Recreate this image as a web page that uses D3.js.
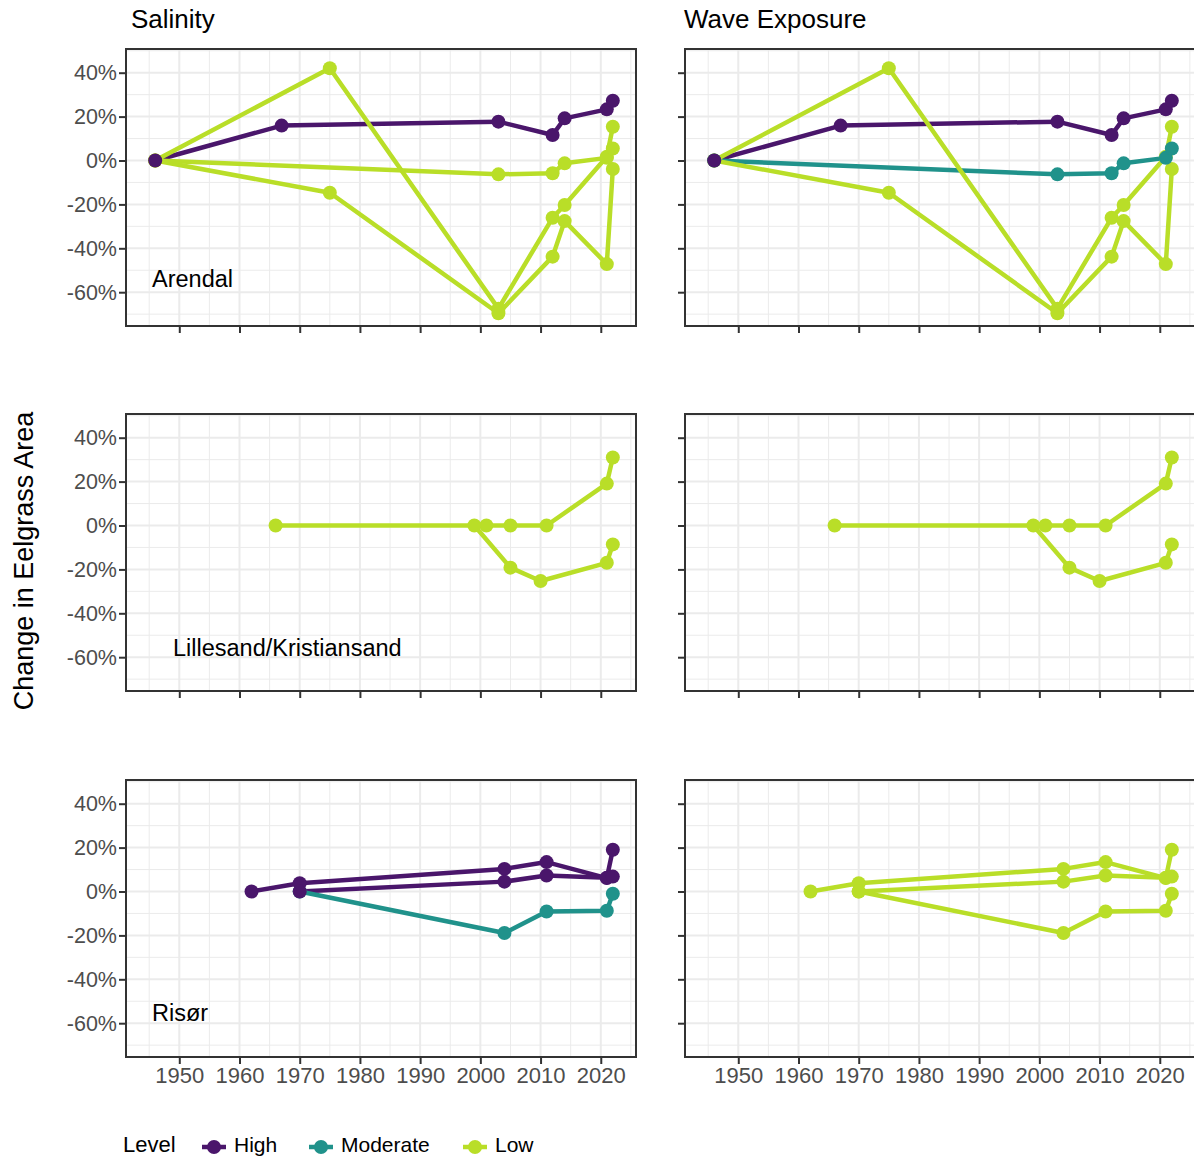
<!DOCTYPE html>
<html>
<head>
<meta charset="utf-8">
<script src="https://cdn.jsdelivr.net/npm/d3@7"></script>
<style>
  html, body { margin: 0; padding: 0; background: #ffffff; }
  svg { display: block; font-family: "Liberation Sans", Arial, Helvetica, sans-serif; }
</style>
</head>
<body>
<svg id="chart" width="1194" height="1157"></svg>
<script>
// ---- data -------------------------------------------------------------
const drivers = ["Salinity", "Wave Exposure"];
const regions = ["Arendal", "Lillesand/Kristiansand", "Risør"];
const levels = ["High", "Moderate", "Low"];

// one entry per monitored site: region, survey years, % change in eelgrass area
const siteRegion = [
  "Arendal", "Arendal", "Arendal", "Arendal",
  "Lillesand/Kristiansand", "Lillesand/Kristiansand",
  "Risør", "Risør", "Risør"
];
const siteYears = [
  [1946, 1967, 2003, 2012, 2014, 2021, 2022],
  [1946, 1975, 2003, 2012, 2014, 2021, 2022],
  [1946, 1975, 2003, 2012, 2014, 2021, 2022],
  [1946, 2003, 2012, 2014, 2021, 2022],
  [1966, 2001, 2005, 2011, 2021, 2022],
  [1999, 2005, 2010, 2021, 2022],
  [1962, 1970, 2004, 2011, 2021, 2022],
  [1970, 2004, 2011, 2021, 2022],
  [1970, 2004, 2011, 2021, 2022]
];
const siteChange = [
  [0, 15.9, 17.7, 11.6, 19.2, 23.3, 27.2],
  [0, 42.0, -67.5, -26.1, -20.3, 1.7, 15.4],
  [0, -14.7, -69.6, -43.8, -27.6, -47.2, -3.9],
  [0, -6.3, -5.8, -1.3, 1.2, 5.5],
  [0, 0, 0, 0, 19.1, 31.0],
  [0, -19.2, -25.3, -17.0, -8.6],
  [0, 3.8, 10.3, 13.4, 6.1, 19.0],
  [0, 4.5, 7.3, 6.3, 6.8],
  [0, -18.9, -9.1, -8.8, -1.0]
];
const siteSalinity = ["High", "Low", "Low", "Low", "Low", "Low", "High", "High", "Moderate"];
const siteWave     = ["High", "Low", "Low", "Moderate", "Low", "Low", "Low", "Low", "Low"];

const xTicks = [1950, 1960, 1970, 1980, 1990, 2000, 2010, 2020];
const xMinor = [1945, 1955, 1965, 1975, 1985, 1995, 2005, 2015, 2025];
const yTicks = [-60, -40, -20, 0, 20, 40];
const yMinor = [-70, -50, -30, -10, 10, 30, 50];

// ---- layout -----------------------------------------------------------
const levelColor = d3.scaleOrdinal().domain(levels).range(["#4A166B", "#20928B", "#B9DE28"]);
const panelX = [126, 685];
const panelY = [49, 414, 780];
const panelW = 510, panelH = 277;
const labelOffset = [[26, 238], [47, 242], [26, 241]];
const titleX = [131, 684];

const svg = d3.select("#chart");
svg.append("rect").attr("width", 1194).attr("height", 1157).attr("fill", "#ffffff");

const x = d3.scaleLinear().domain([1941.15, 2025.85]).range([0, panelW]);
const y = d3.scaleLinear().domain([-75.4, 50.8]).range([panelH, 0]);

const sites = siteRegion.map((r, i) => ({
  region: r,
  salinity: siteSalinity[i],
  wave: siteWave[i],
  pts: siteYears[i].map((yr, j) => ({ year: yr, value: siteChange[i][j] }))
}));

const line = d3.line().x(d => x(d.year)).y(d => y(d.value));

// line stacking: High below, Low on top; points: High on top
const lineOrder = ["High", "Moderate", "Low"];
const pointOrder = ["Low", "Moderate", "High"];
const pointR = 7;

regions.forEach((region, r) => {
  drivers.forEach((driver, c) => {
    const g = svg.append("g").attr("transform", `translate(${panelX[c]},${panelY[r]})`);
    const levelOf = s => (driver === "Salinity" ? s.salinity : s.wave);
    const data = sites.filter(s => s.region === region);

    // grid
    g.append("g").selectAll("line").data(xMinor).join("line")
      .attr("x1", d => x(d)).attr("x2", d => x(d)).attr("y1", 0).attr("y2", panelH)
      .attr("stroke", "#EBEBEB").attr("stroke-width", 1);
    g.append("g").selectAll("line").data(yMinor).join("line")
      .attr("x1", 0).attr("x2", panelW).attr("y1", d => y(d)).attr("y2", d => y(d))
      .attr("stroke", "#EBEBEB").attr("stroke-width", 1);
    g.append("g").selectAll("line").data(xTicks).join("line")
      .attr("x1", d => x(d)).attr("x2", d => x(d)).attr("y1", 0).attr("y2", panelH)
      .attr("stroke", "#EBEBEB").attr("stroke-width", 2);
    g.append("g").selectAll("line").data(yTicks).join("line")
      .attr("x1", 0).attr("x2", panelW).attr("y1", d => y(d)).attr("y2", d => y(d))
      .attr("stroke", "#EBEBEB").attr("stroke-width", 2);

    // lines
    const lineData = lineOrder.flatMap(l => data.filter(s => levelOf(s) === l));
    g.append("g").selectAll("path").data(lineData).join("path")
      .attr("d", s => line(s.pts))
      .attr("fill", "none")
      .attr("stroke", s => levelColor(levelOf(s)))
      .attr("stroke-width", 4.5)
      .attr("stroke-linejoin", "round");

    // points
    const pointData = pointOrder.flatMap(l =>
      data.filter(s => levelOf(s) === l).flatMap(s => s.pts.map(p => ({ ...p, level: l }))));
    g.append("g").selectAll("circle").data(pointData).join("circle")
      .attr("cx", d => x(d.year)).attr("cy", d => y(d.value)).attr("r", pointR)
      .attr("fill", d => levelColor(d.level));

    // region label (left column)
    if (c === 0) {
      g.append("text").attr("x", labelOffset[r][0]).attr("y", labelOffset[r][1])
        .attr("font-size", 23.5).attr("fill", "#000").text(region);
    }

    // border
    g.append("rect").attr("width", panelW).attr("height", panelH)
      .attr("fill", "none").attr("stroke", "#333333").attr("stroke-width", 2);

    // axes
    const ya = d3.axisLeft(y).tickValues(yTicks).tickSize(7).tickPadding(2)
      .tickFormat(c === 0 ? (d => d + "%") : () => "");
    const yg = g.append("g").call(ya);
    const xa = d3.axisBottom(x).tickValues(xTicks).tickSize(7).tickPadding(3)
      .tickFormat(r === 2 ? d3.format("d") : () => "");
    const xg = g.append("g").attr("transform", `translate(0,${panelH})`).call(xa);
    [yg, xg].forEach(a => {
      a.select(".domain").remove();
      a.selectAll(".tick line").attr("stroke", "#333333").attr("stroke-width", 2);
      a.selectAll(".tick text").attr("fill", "#4D4D4D")
        .attr("font-family", "Liberation Sans, Arial, sans-serif");
    });
    yg.selectAll(".tick text").attr("font-size", 21.5);
    xg.selectAll(".tick text").attr("font-size", 22);
  });
});

// facet titles
drivers.forEach((d, c) => {
  svg.append("text").attr("x", titleX[c]).attr("y", 28)
    .attr("font-size", 26).attr("fill", "#000").text(d);
});

// y axis title
svg.append("text")
  .attr("transform", "translate(33,561) rotate(-90)")
  .attr("text-anchor", "middle")
  .attr("font-size", 27).attr("fill", "#000")
  .text("Change in Eelgrass Area");

// legend
const legend = svg.append("g");
legend.append("text").attr("x", 123).attr("y", 1152).attr("font-size", 22).attr("fill", "#000").text("Level");
const keyX = [214, 321, 475];
levels.forEach((l, i) => {
  const k = legend.append("g").attr("transform", `translate(${keyX[i]},1147)`);
  k.append("line").attr("x1", -12).attr("x2", 12).attr("stroke", levelColor(l)).attr("stroke-width", 4.5);
  k.append("circle").attr("r", pointR).attr("fill", levelColor(l));
  legend.append("text").attr("x", keyX[i] + 20).attr("y", 1152)
    .attr("font-size", 21).attr("fill", "#000").text(l);
});
</script>
</body>
</html>
